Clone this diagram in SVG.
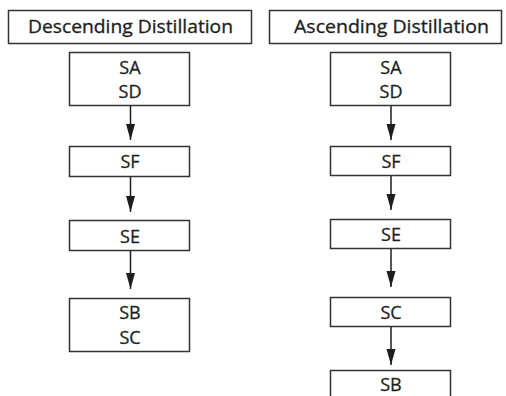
<svg xmlns="http://www.w3.org/2000/svg" width="506" height="396" viewBox="0 0 506 396">
<style>
  .box { fill: #ffffff; stroke: #333333; stroke-width: 1.5; }
  .lbl { font-family: "Open Sans", "DejaVu Sans", sans-serif; font-size: 18px; fill: #1e1e1e; stroke: #1e1e1e; stroke-width: 0.3; text-anchor: middle; }
  .edge { stroke: #1e1e1e; stroke-width: 1.5; fill: none; }
</style>
<defs>
  <marker id="arrow" markerUnits="userSpaceOnUse" markerWidth="16" markerHeight="10" refX="16" refY="5" orient="auto" viewBox="0 0 16 10">
    <path d="M0,0.5 L16,5 L0,9.5 Z" fill="#1e1e1e"/>
  </marker>
</defs>
<rect width="506" height="396" fill="#ffffff"/>

<g id="title-descending">
  <rect class="box" x="8.5" y="10.5" width="243" height="33"/>
  <text class="lbl" x="130.5" y="33" textLength="205" lengthAdjust="spacingAndGlyphs">Descending Distillation</text>
</g>
<g id="title-ascending">
  <rect class="box" x="269.5" y="10.5" width="232" height="33"/>
  <text class="lbl" x="391.5" y="33" textLength="195" lengthAdjust="spacingAndGlyphs">Ascending Distillation</text>
</g>

<g id="d-sasd">
  <rect class="box" x="69.5" y="52.5" width="120" height="53"/>
  <text class="lbl" x="130" y="73.5">SA</text>
  <text class="lbl" x="130" y="97.5">SD</text>
</g>
<g id="d-sf">
  <rect class="box" x="69.5" y="146.5" width="120" height="30"/>
  <text class="lbl" x="130" y="168">SF</text>
</g>
<g id="d-se">
  <rect class="box" x="69.5" y="220.5" width="120" height="30"/>
  <text class="lbl" x="130" y="242.5">SE</text>
</g>
<g id="d-sbsc">
  <rect class="box" x="69.5" y="298.5" width="120" height="53"/>
  <text class="lbl" x="130" y="318.5">SB</text>
  <text class="lbl" x="130" y="343.5">SC</text>
</g>

<g id="a-sasd">
  <rect class="box" x="330.5" y="52.5" width="120" height="53"/>
  <text class="lbl" x="391" y="73.5">SA</text>
  <text class="lbl" x="391" y="97.5">SD</text>
</g>
<g id="a-sf">
  <rect class="box" x="330.5" y="146.5" width="120" height="29"/>
  <text class="lbl" x="391" y="167.5">SF</text>
</g>
<g id="a-se">
  <rect class="box" x="330.5" y="219.5" width="120" height="29"/>
  <text class="lbl" x="391" y="240.5">SE</text>
</g>
<g id="a-sc">
  <rect class="box" x="330.5" y="297.5" width="120" height="29"/>
  <text class="lbl" x="391" y="318.5">SC</text>
</g>
<g id="a-sb">
  <rect class="box" x="330.5" y="370.5" width="120" height="40"/>
  <text class="lbl" x="391" y="391">SB</text>
</g>

<g id="connectors">
  <line class="edge" x1="130.5" y1="106" x2="130.5" y2="140" marker-end="url(#arrow)"/>
  <line class="edge" x1="130.5" y1="177" x2="130.5" y2="212" marker-end="url(#arrow)"/>
  <line class="edge" x1="130.5" y1="251" x2="130.5" y2="289" marker-end="url(#arrow)"/>
  <line class="edge" x1="391" y1="106" x2="391" y2="140" marker-end="url(#arrow)"/>
  <line class="edge" x1="391" y1="176" x2="391" y2="210" marker-end="url(#arrow)"/>
  <line class="edge" x1="391" y1="249" x2="391" y2="287" marker-end="url(#arrow)"/>
  <line class="edge" x1="391" y1="327" x2="391" y2="365" marker-end="url(#arrow)"/>
</g>
</svg>
